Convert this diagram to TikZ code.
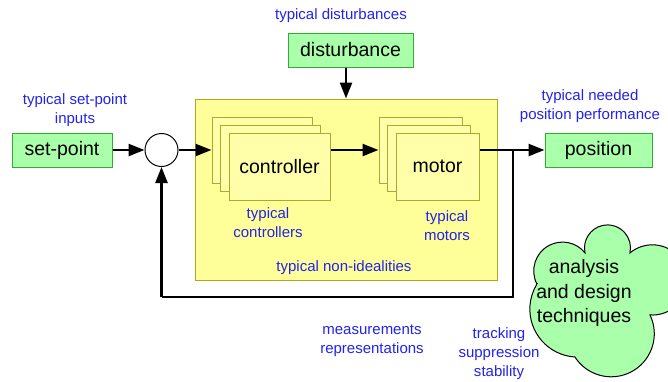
\documentclass[tikz,border=0pt]{standalone}
\usepackage{fontspec}
\setmainfont{Liberation Sans}
\usetikzlibrary{arrows.meta}
\definecolor{gfill}{HTML}{AAFFAA}
\definecolor{gline}{HTML}{33AA33}
\definecolor{yfill}{HTML}{FFFF99}
\definecolor{yline}{HTML}{AAAA22}
\definecolor{sfill}{HTML}{FFFFAA}
\definecolor{sline}{HTML}{AAAA33}
\definecolor{lblue}{HTML}{2222EE}
\tikzset{
  greenbox/.style={draw=gline, fill=gfill, line width=1pt, inner sep=0pt,
    font=\fontsize{19.5}{22}\selectfont},
  card/.style={draw=sline, fill=sfill, line width=1pt, inner sep=0pt,
    font=\fontsize{19.5}{22}\selectfont},
  note/.style={text=lblue, align=center, font=\fontsize{15}{19}\selectfont},
  flow/.style={line width=2.4pt, -{Triangle[length=16pt,width=12pt]}},
  wire/.style={line width=2.4pt}
}
\begin{document}
\begin{tikzpicture}[x=1pt,y=-1pt]
\useasboundingbox (0,0) rectangle (668,381);
\clip (0,0) rectangle (668,381);

% plant region
\node[draw=yline, fill=yfill, line width=1pt, minimum width=302pt, minimum height=181pt]
  (yel) at (346,189.5) {};

% controller stack
\node[card, minimum width=100pt, minimum height=66pt] (c3) at (262,150) {};
\node[card, minimum width=100pt, minimum height=66pt] (c2) at (270.5,158) {};
\node[card, minimum width=101pt, minimum height=67pt] (c1) at (279.5,166.5) {controller};

% motor stack
\node[card, minimum width=83pt, minimum height=66pt] (m3) at (420.5,150) {};
\node[card, minimum width=83pt, minimum height=66pt] (m2) at (429,158) {};
\node[card, minimum width=83pt, minimum height=67pt] (m1) at (437.5,166.5) {motor};

% blocks outside the plant
\node[greenbox, minimum width=100pt, minimum height=34pt] (sp) at (62,150) {set-point};
\node[greenbox, minimum width=125pt, minimum height=34pt] (dist) at (350.5,50) {disturbance};
\node[greenbox, minimum width=107pt, minimum height=34pt] (pos) at (598.5,150) {position};
\node[draw, fill=white, circle, line width=1pt, minimum size=33pt, inner sep=0pt] (sum) at (161.5,150) {};
\coordinate (branch) at (513,150);
\coordinate (fbr) at (513,297);
\coordinate (fbl) at (161.5,297);

% signal flow
\draw[flow] (sp.east) -- (sum.west);
\draw[flow] (sum.east) -- (c3.west);
\draw[flow] (c1.east |- sum) -- (m3.west);
\draw[flow] (m1.east |- sum) -- (pos.west);
\draw[flow] (yel.north |- dist.south) -- (yel.north);
\draw[wire] (branch) -- (fbr) -- (fbl);
\draw[flow] (fbl) -- (sum.south);

% analysis cloud, built from five circular puffs
\path[draw=black, fill=gfill, line width=1pt]
  (536.9,284.0)
  arc[start angle=152.9, end angle=321.4, radius=28.8]
  arc[start angle=167.5, end angle=372.5, radius=23]
  arc[start angle=230.3, end angle=453.9, radius=35.1]
  arc[start angle=-25.8, end angle=147.3, radius=43.1]
  arc[start angle=93.5, end angle=211.5, radius=48]
  -- cycle;
\node[align=center, font=\fontsize{19.5}{24.5}\selectfont] (cloud) at (584,293)
  {analysis\\and design\\techniques};

% annotations
\node[note] (n1) at (341,16) {typical disturbances};
\node[note] (n2) at (75,110) {typical set-point\\inputs};
\node[note] (n3) at (590,106) {typical needed\\position performance};
\node[note] (n4) at (268,223) {typical\\controllers};
\node[note] (n5) at (447,226) {typical\\motors};
\node[note] (n6) at (344,268) {typical non-idealities};
\node[note] (n7) at (372,341) {measurements\\representations};
\node[note] (n8) at (499,354) {tracking\\suppression\\stability};
\end{tikzpicture}
\end{document}
